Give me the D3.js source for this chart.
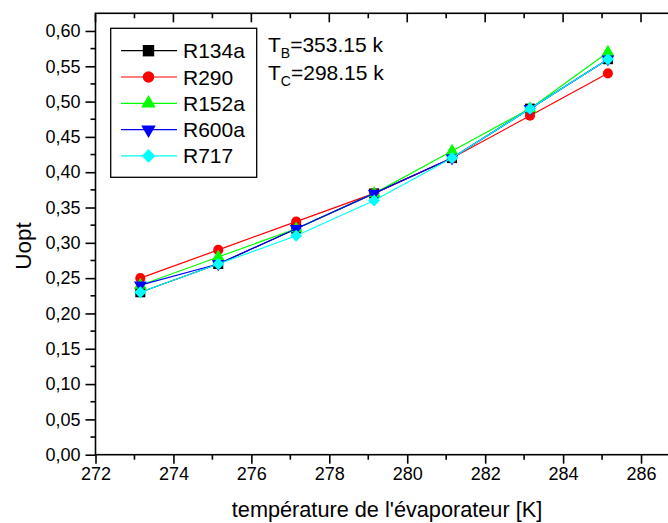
<!DOCTYPE html>
<html><head><meta charset="utf-8">
<script src="https://cdn.jsdelivr.net/npm/d3@7"></script>
<style>body{margin:0;background:#fff}svg{display:block}text{font-family:Arial,"Liberation Sans",sans-serif}</style>
</head><body><svg id="c" width="668" height="523"></svg>
<script>
const temps = [273.15, 275.15, 277.15, 279.15, 281.15, 283.15, 285.15];
const seriesNames = ["R134a", "R290", "R152a", "R600a", "R717"];
const r134a = [0.23, 0.27, 0.32, 0.37, 0.42, 0.49, 0.56];
const r290  = [0.25, 0.29, 0.33, 0.37, 0.42, 0.48, 0.54];
const r152a = [0.24, 0.28, 0.32, 0.37, 0.43, 0.49, 0.57];
const r600a = [0.24, 0.27, 0.32, 0.37, 0.42, 0.49, 0.56];
const r717  = [0.23, 0.27, 0.31, 0.36, 0.42, 0.49, 0.56];
const xTicks = [272, 274, 276, 278, 280, 282, 284, 286];
const yTicks = [0, 0.05, 0.10, 0.15, 0.20, 0.25, 0.30, 0.35, 0.40, 0.45, 0.50, 0.55, 0.60];

const seriesValues = [r134a, r290, r152a, r600a, r717];
const colors = ["#000000", "#ff0000", "#00ff00", "#0000ff", "#00ffff"];
const symbols = [
  {t: d3.symbolSquare, s: 100, r: 0},
  {t: d3.symbolCircle, s: 80, r: 0},
  {t: d3.symbolTriangle, s: 70, r: 0},
  {t: d3.symbolTriangle, s: 70, r: 180},
  {t: d3.symbolSquare, s: 72, r: 45}
];

const svg = d3.select("#c");
const L = 95.5, R = 680, T = 13.3, B = 454.7;
const x = d3.scaleLinear().domain([272, 287]).range([L, R]);
const y = d3.scaleLinear().domain([0, 0.625]).range([B, T]);
const fmt = v => d3.format(".2f")(v).replace(".", ",");

// frame
svg.append("rect").attr("x", L).attr("y", T).attr("width", R - L).attr("height", B - T)
  .attr("fill", "none").attr("stroke", "#000").attr("stroke-width", 1.6);

// bottom axis
const xa = svg.append("g").attr("transform", `translate(0,${B})`)
  .call(d3.axisBottom(x).tickValues(xTicks).tickSize(9).tickPadding(4).tickFormat(d3.format("d")));
xa.select(".domain").remove();
xa.selectAll("line").attr("stroke-width", 1.6);
xa.selectAll("text").attr("font-size", 18).attr("fill", "#000").attr("font-family", "Arial, Liberation Sans");
const xMinor = d3.range(273, 287, 2);
svg.append("g").selectAll("line").data(xMinor).join("line")
  .attr("x1", d => x(d)).attr("x2", d => x(d)).attr("y1", B).attr("y2", B + 5)
  .attr("stroke", "#000").attr("stroke-width", 1.6);
// top ticks inward
svg.append("g").selectAll("line").data(xTicks.concat(xMinor)).join("line")
  .attr("x1", d => x(d)).attr("x2", d => x(d)).attr("y1", T)
  .attr("y2", d => T + (d % 2 === 0 ? 9 : 5))
  .attr("stroke", "#000").attr("stroke-width", 1.6);

// left axis
const ya = svg.append("g").attr("transform", `translate(${L},0)`)
  .call(d3.axisLeft(y).tickValues(yTicks).tickSize(10).tickPadding(5).tickFormat(fmt));
ya.select(".domain").remove();
ya.selectAll("line").attr("stroke-width", 1.6);
ya.selectAll("text").attr("font-size", 18).attr("fill", "#000").attr("font-family", "Arial, Liberation Sans");
const yMinor = d3.range(0.025, 0.625, 0.05);
svg.append("g").selectAll("line").data(yMinor).join("line")
  .attr("x1", L - 5).attr("x2", L).attr("y1", d => y(d)).attr("y2", d => y(d))
  .attr("stroke", "#000").attr("stroke-width", 1.6);

// axis titles
svg.append("text").attr("x", 387).attr("y", 517).attr("text-anchor", "middle")
  .attr("font-size", 21.7).text("température de l'évaporateur [K]");
svg.append("text").attr("transform", "translate(31,246) rotate(-90)").attr("text-anchor", "middle")
  .attr("font-size", 22.5).text("Uopt");

// series
const line = d3.line().x((d, i) => x(temps[i])).y(d => y(d));
seriesValues.forEach((vals, k) => {
  const g = svg.append("g");
  g.append("path").attr("d", line(vals)).attr("fill", "none")
    .attr("stroke", colors[k]).attr("stroke-width", 1.2);
  g.selectAll("path.m").data(vals).join("path").attr("class", "m")
    .attr("d", d3.symbol().type(symbols[k].t).size(symbols[k].s))
    .attr("transform", (d, i) => `translate(${x(temps[i])},${y(d)}) rotate(${symbols[k].r})`)
    .attr("fill", colors[k]);
});

// legend
const lg = svg.append("g");
lg.append("rect").attr("x", 110.7).attr("y", 28.3).attr("width", 146).attr("height", 149)
  .attr("fill", "#fff").attr("stroke", "#000").attr("stroke-width", 1.3);
seriesNames.forEach((n, k) => {
  const cy = 50.7 + k * 26.3;
  lg.append("line").attr("x1", 121).attr("x2", 177).attr("y1", cy).attr("y2", cy)
    .attr("stroke", colors[k]).attr("stroke-width", 1.2);
  lg.append("path").attr("d", d3.symbol().type(symbols[k].t).size(symbols[k].s * 1.3))
    .attr("transform", `translate(148.5,${cy}) rotate(${symbols[k].r})`).attr("fill", colors[k]);
  lg.append("text").attr("x", 183).attr("y", cy + 7.5).attr("font-size", 21).text(n);
});

// annotation
const an = svg.append("g");
[["B", "=353.15 k", 52], ["C", "=298.15 k", 80.3]].forEach(([s, v, by]) => {
  const t = an.append("text").attr("x", 268).attr("y", by).attr("font-size", 21);
  t.append("tspan").text("T");
  t.append("tspan").attr("font-size", 14).attr("dy", 6).text(s);
  t.append("tspan").attr("dy", -6).text(v);
});
</script></body></html>
